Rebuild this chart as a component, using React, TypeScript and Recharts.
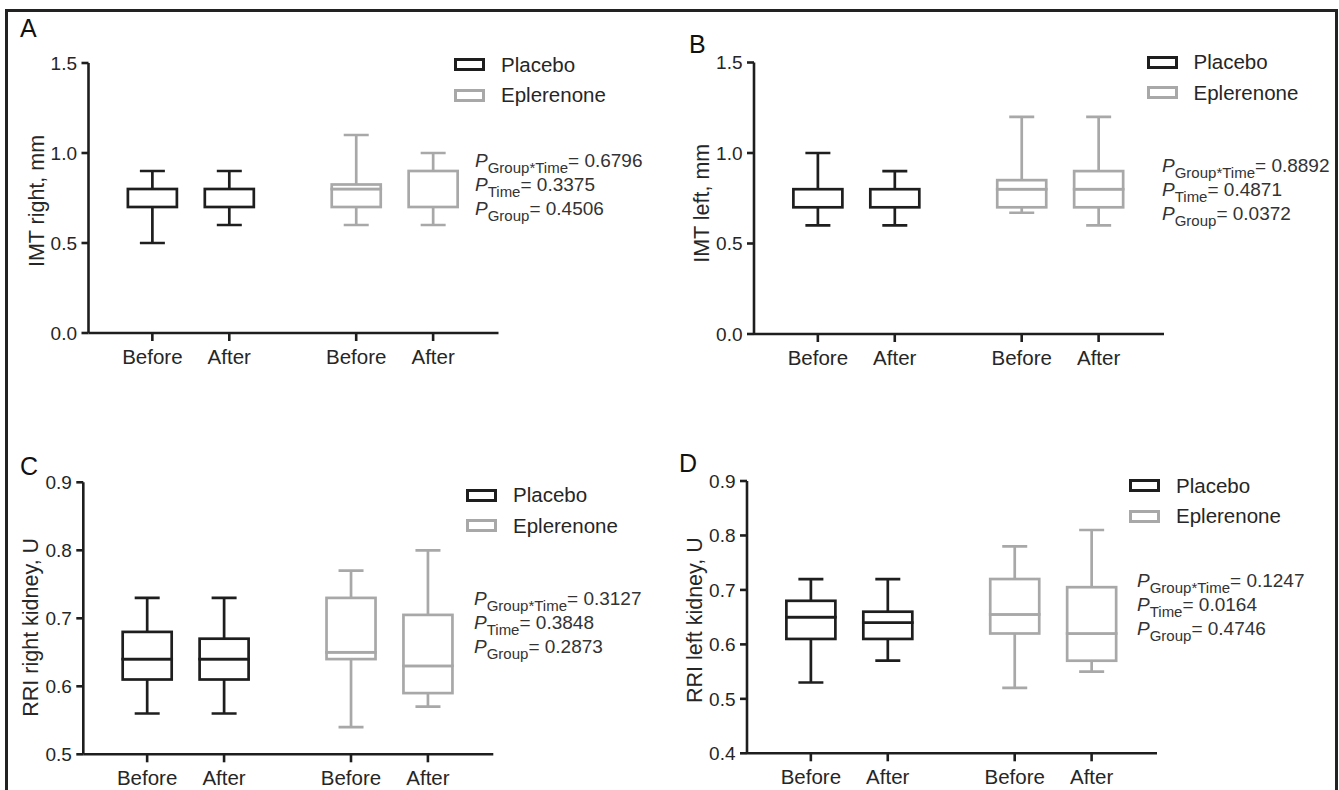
import React from 'react';
import { ComposedChart, Bar, XAxis, YAxis, Legend } from 'recharts';

// ---------- data ----------
const categories = ['Before', 'After', 'Before', 'After'];
const groups = ['Placebo', 'Placebo', 'Eplerenone', 'Eplerenone'];
const legendGroups = ['Placebo', 'Eplerenone'];
const pTerms = ['Group*Time', 'Time', 'Group'];

// Panel A: IMT right, mm  (order: Placebo Before, Placebo After, Eplerenone Before, Eplerenone After)
const imtRightMin = [0.5, 0.6, 0.6, 0.6];
const imtRightQ1 = [0.7, 0.7, 0.7, 0.7];
const imtRightMedian = [0.7, 0.7, 0.8, 0.7];
const imtRightQ3 = [0.8, 0.8, 0.825, 0.9];
const imtRightMax = [0.9, 0.9, 1.1, 1.0];
const imtRightP = ['0.6796', '0.3375', '0.4506'];

// Panel B: IMT left, mm
const imtLeftMin = [0.6, 0.6, 0.67, 0.6];
const imtLeftQ1 = [0.7, 0.7, 0.7, 0.7];
const imtLeftMedian = [0.7, 0.7, 0.8, 0.8];
const imtLeftQ3 = [0.8, 0.8, 0.85, 0.9];
const imtLeftMax = [1.0, 0.9, 1.2, 1.2];
const imtLeftP = ['0.8892', '0.4871', '0.0372'];

// Panel C: RRI right kidney, U
const rriRightMin = [0.56, 0.56, 0.54, 0.57];
const rriRightQ1 = [0.61, 0.61, 0.64, 0.59];
const rriRightMedian = [0.64, 0.64, 0.65, 0.63];
const rriRightQ3 = [0.68, 0.67, 0.73, 0.705];
const rriRightMax = [0.73, 0.73, 0.77, 0.8];
const rriRightP = ['0.3127', '0.3848', '0.2873'];

// Panel D: RRI left kidney, U
const rriLeftMin = [0.53, 0.57, 0.52, 0.55];
const rriLeftQ1 = [0.61, 0.61, 0.62, 0.57];
const rriLeftMedian = [0.65, 0.64, 0.655, 0.62];
const rriLeftQ3 = [0.68, 0.66, 0.72, 0.705];
const rriLeftMax = [0.72, 0.72, 0.78, 0.81];
const rriLeftP = ['0.1247', '0.0164', '0.4746'];

const imtTicks = [0, 0.5, 1.0, 1.5];
const rriRightTicks = [0.5, 0.6, 0.7, 0.8, 0.9];
const rriLeftTicks = [0.4, 0.5, 0.6, 0.7, 0.8, 0.9];

// ---------- layout / style ----------
const SLOT_X = [1, 2, 3.65, 4.65];
const X_DOMAIN: [number, number] = [0.17, 5.5];
const CHART_W = 669;
const CHART_H = 410;
const PLOT_W = 410;
const Y_AXIS_W = 60;
const X_AXIS_H = 40;
const BAR_W = 49;
const CAP_W = 25;
const SW = 2.7;
const FONT = '"Liberation Sans", Arial, Helvetica, sans-serif';
const TEXT = '#262626';
const AXIS = '#1e1e1e';
const P_LINE = 24;
const groupColor: Record<string, string> = { Placebo: '#1e1e1e', Eplerenone: '#a8a8a8' };

function buildRows(min: number[], q1: number[], med: number[], q3: number[], max: number[]) {
  return categories.map((cat, i) => ({
    x: SLOT_X[i],
    cat,
    group: groups[i],
    base: min[i],
    lowW: q1[i] - min[i],
    boxLo: med[i] - q1[i],
    boxHi: q3[i] - med[i],
    upW: max[i] - q3[i],
  }));
}

const colorOf = (p: any) => groupColor[(p && p.payload && p.payload.group) || 'Placebo'];

const emptyShape = () => <g />;

const whiskerShape = (end: 'low' | 'high') => (p: any) => {
  if (p == null || p.height == null) return <g />;
  const top = Math.min(p.y, p.y + p.height);
  const bot = Math.max(p.y, p.y + p.height);
  const cx = p.x + p.width / 2;
  const c = colorOf(p);
  const capY = end === 'low' ? bot : top;
  return (
    <g>
      <line x1={cx} x2={cx} y1={top} y2={bot} stroke={c} strokeWidth={SW} />
      <line x1={cx - CAP_W / 2} x2={cx + CAP_W / 2} y1={capY} y2={capY} stroke={c} strokeWidth={SW} />
    </g>
  );
};

const boxShape = (p: any) => {
  if (p == null || p.height == null) return <g />;
  const top = Math.min(p.y, p.y + p.height);
  const h = Math.abs(p.height);
  if (h <= 0) return <g />;
  const c = colorOf(p);
  return <rect x={p.x} y={top} width={p.width} height={h} fill="#ffffff" stroke={c} strokeWidth={SW} />;
};

const LegendContent = () => (
  <div style={{ fontFamily: FONT }}>
    {legendGroups.map((g) => (
      <div key={g} style={{ display: 'flex', alignItems: 'center', height: 30.5 }}>
        <span
          style={{
            display: 'inline-block',
            width: 31,
            height: 13,
            boxSizing: 'border-box',
            border: `3px solid ${groupColor[g]}`,
          }}
        />
        <span style={{ marginLeft: 16, fontSize: 20.5, color: TEXT, lineHeight: '20px' }}>{g}</span>
      </div>
    ))}
  </div>
);

interface PanelCfg {
  letter: string;
  px: number;
  py: number;
  plotLeft: number;
  plotTop: number;
  plotBottom: number;
  yDomain: [number, number];
  yTicks: number[];
  yLabel: string;
  labelDy: number;
  rows: any[];
  pVals: string[];
  pPos: { x: number; y: number };
  legendPos: { left: number; top: number };
  letterPos: { x: number; y: number };
}

const panels: PanelCfg[] = [
  {
    letter: 'A', px: 0, py: 0, plotLeft: 88.5, plotTop: 63, plotBottom: 333,
    yDomain: [0, 1.5], yTicks: imtTicks, yLabel: 'IMT right, mm', labelDy: 3,
    rows: buildRows(imtRightMin, imtRightQ1, imtRightMedian, imtRightQ3, imtRightMax),
    pVals: imtRightP, pPos: { x: 475, y: 167 }, legendPos: { left: 454, top: 49.5 },
    letterPos: { x: 20, y: 36.7 },
  },
  {
    letter: 'B', px: 669, py: 0, plotLeft: 754, plotTop: 62.5, plotBottom: 334,
    yDomain: [0, 1.5], yTicks: imtTicks, yLabel: 'IMT left, mm', labelDy: 5,
    rows: buildRows(imtLeftMin, imtLeftQ1, imtLeftMedian, imtLeftQ3, imtLeftMax),
    pVals: imtLeftP, pPos: { x: 1162, y: 171.5 }, legendPos: { left: 477.5, top: 47 },
    letterPos: { x: 689, y: 53 },
  },
  {
    letter: 'C', px: 0, py: 395, plotLeft: 83.3, plotTop: 482.3, plotBottom: 754.3,
    yDomain: [0.5, 0.9], yTicks: rriRightTicks, yLabel: 'RRI right kidney, U', labelDy: 9,
    rows: buildRows(rriRightMin, rriRightQ1, rriRightMedian, rriRightQ3, rriRightMax),
    pVals: rriRightP, pPos: { x: 474, y: 604.5 }, legendPos: { left: 466, top: 85 },
    letterPos: { x: 20, y: 475 },
  },
  {
    letter: 'D', px: 669, py: 395, plotLeft: 747, plotTop: 481, plotBottom: 753.3,
    yDomain: [0.4, 0.9], yTicks: rriLeftTicks, yLabel: 'RRI left kidney, U', labelDy: 3,
    rows: buildRows(rriLeftMin, rriLeftQ1, rriLeftMedian, rriLeftQ3, rriLeftMax),
    pVals: rriLeftP, pPos: { x: 1137, y: 587 }, legendPos: { left: 460, top: 75.7 },
    letterPos: { x: 679, y: 472 },
  },
];

const makeYLabel = (text: string, dy: number) => (props: any) => {
  const vb = (props && props.viewBox) || {};
  const cx = (vb.x ?? 0) + Y_AXIS_W - 52;
  const cy = (vb.y ?? 0) + (vb.height ?? 0) / 2 + dy;
  return (
    <text
      x={cx}
      y={cy}
      transform={`rotate(-90 ${cx} ${cy})`}
      textAnchor="middle"
      dominantBaseline="central"
      fontSize={21.5}
      fontFamily={FONT}
      fill={TEXT}
    >
      {text}
    </text>
  );
};

function Panel({ cfg }: { cfg: PanelCfg }) {
  const innerLeft = cfg.plotLeft - cfg.px;
  const margin = {
    top: cfg.plotTop - cfg.py,
    left: innerLeft - Y_AXIS_W,
    right: CHART_W - innerLeft - PLOT_W,
    bottom: CHART_H - (cfg.plotBottom - cfg.py) - X_AXIS_H,
  };
  const axisLine = { stroke: AXIS, strokeWidth: 2.6 };
  return (
    <div style={{ position: 'absolute', left: cfg.px, top: cfg.py }}>
      <ComposedChart width={CHART_W} height={CHART_H} data={cfg.rows} margin={margin}>
        <XAxis
          dataKey="x"
          type="number"
          domain={X_DOMAIN}
          ticks={SLOT_X}
          interval={0}
          allowDataOverflow
          height={X_AXIS_H}
          tickSize={8}
          tickMargin={8}
          axisLine={axisLine}
          tickLine={axisLine}
          tick={{ fontSize: 20.5, fill: TEXT, fontFamily: FONT }}
          tickFormatter={(v: number) => categories[SLOT_X.indexOf(v)] ?? ''}
        />
        <YAxis
          type="number"
          domain={cfg.yDomain}
          ticks={cfg.yTicks}
          interval={0}
          allowDataOverflow
          width={Y_AXIS_W}
          tickSize={7}
          tickMargin={4.5}
          axisLine={axisLine}
          tickLine={axisLine}
          tick={{ fontSize: 19, fill: TEXT, fontFamily: FONT }}
          tickFormatter={(v: number) => v.toFixed(1)}
          label={makeYLabel(cfg.yLabel, cfg.labelDy)}
        />
        <Legend
          layout="horizontal"
          verticalAlign="middle"
          align="center"
          wrapperStyle={{ left: cfg.legendPos.left, top: cfg.legendPos.top, width: 200, right: 'auto', bottom: 'auto' }}
          content={() => <LegendContent />}
        />
        <Bar dataKey="base" stackId="box" barSize={BAR_W} shape={emptyShape} isAnimationActive={false} legendType="none" />
        <Bar dataKey="lowW" stackId="box" barSize={BAR_W} shape={whiskerShape('low')} isAnimationActive={false} legendType="none" />
        <Bar dataKey="boxLo" stackId="box" barSize={BAR_W} shape={boxShape} isAnimationActive={false} legendType="none" />
        <Bar dataKey="boxHi" stackId="box" barSize={BAR_W} shape={boxShape} isAnimationActive={false} legendType="none" />
        <Bar dataKey="upW" stackId="box" barSize={BAR_W} shape={whiskerShape('high')} isAnimationActive={false} legendType="none" />
      </ComposedChart>
    </div>
  );
}

function Annotations() {
  return (
    <svg
      width={1339}
      height={790}
      style={{ position: 'absolute', left: 0, top: 0, pointerEvents: 'none' }}
      fontFamily={FONT}
    >
      {panels.map((cfg) => (
        <g key={cfg.letter}>
          <text x={cfg.letterPos.x} y={cfg.letterPos.y} fontSize={25} fill="#111">
            {cfg.letter}
          </text>
          {cfg.pVals.map((v, i) => (
            <text key={i} x={cfg.pPos.x} y={cfg.pPos.y + i * P_LINE} fontSize={19} fill="#333">
              <tspan fontStyle="italic">P</tspan>
              <tspan fontSize={15} dy={6}>{pTerms[i]}</tspan>
              <tspan dy={-6}>= {v}</tspan>
            </text>
          ))}
        </g>
      ))}
    </svg>
  );
}

export default function App() {
  return (
    <div
      style={{
        position: 'fixed',
        left: 0,
        top: 0,
        width: 1339,
        height: 790,
        overflow: 'hidden',
        background: '#ffffff',
        fontFamily: FONT,
      }}
    >
      {panels.map((cfg) => (
        <Panel key={cfg.letter} cfg={cfg} />
      ))}
      <Annotations />
      <div
        style={{
          position: 'absolute',
          left: 5,
          top: 8.5,
          width: 1333,
          height: 900,
          boxSizing: 'border-box',
          border: '3px solid #222',
          pointerEvents: 'none',
        }}
      />
    </div>
  );
}
